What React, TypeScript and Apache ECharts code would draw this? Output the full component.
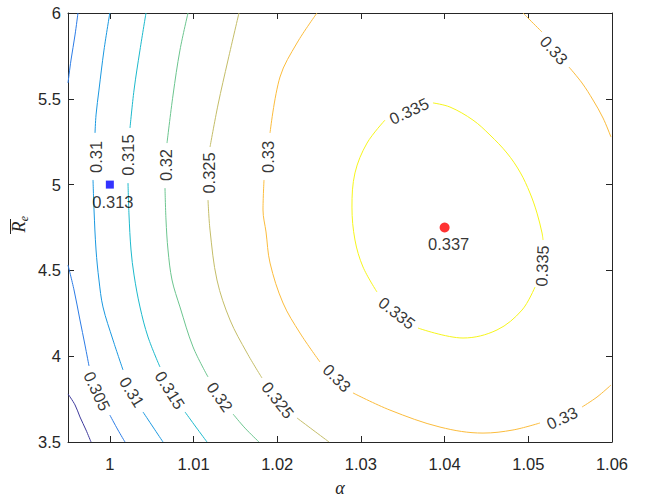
import React, { useEffect, useRef } from "react";
import * as echarts from "echarts";

// ---- data (alpha, R_e) ----
const xTicks = [1, 1.01, 1.02, 1.03, 1.04, 1.05, 1.06];
const yTicks = [3.5, 4, 4.5, 5, 5.5, 6];
const levels = [0.3, 0.305, 0.31, 0.315, 0.32, 0.325, 0.33, 0.335];

const c300 = [
  [[0.995, 3.78], [0.99584, 3.716], [0.99643, 3.646], [0.99715, 3.57], [0.99775, 3.5]],
];
const c305 = [
  [[0.99619, 6.0], [0.99584, 5.872], [0.99536, 5.726], [0.995, 5.592]],
  [[0.995, 4.531], [0.99572, 4.386], [0.99643, 4.211], [0.99703, 4.065], [0.99751, 3.943]],
  [[1.0, 3.657], [1.00097, 3.57], [1.00181, 3.5]],
];
const c310 = [
  [[1.0, 6.0], [0.9993, 5.784], [0.9987, 5.551], [0.99835, 5.406], [0.99823, 5.301]],
  [[0.99799, 5.027], [0.99811, 4.852], [0.99835, 4.619], [0.9987, 4.444], [0.99918, 4.287], [1.00038, 4.094], [1.00157, 3.92]],
  [[1.00396, 3.675], [1.00516, 3.587], [1.00635, 3.5]],
];
const c315 = [
  [[1.00432, 6.0], [1.0036, 5.784], [1.00289, 5.551], [1.00241, 5.33]],
  [[1.00217, 5.009], [1.00229, 4.823], [1.00253, 4.619], [1.00289, 4.473], [1.0036, 4.287], [1.00456, 4.112], [1.00599, 3.937]],
  [[1.00898, 3.675], [1.01029, 3.587], [1.01161, 3.5]],
];
const c320 = [
  [[1.00934, 6.0], [1.00838, 5.784], [1.00755, 5.522], [1.00683, 5.242]],
  [[1.00659, 4.98], [1.00671, 4.794], [1.00695, 4.619], [1.00743, 4.444], [1.00838, 4.287], [1.00994, 4.054], [1.01173, 3.879]],
  [[1.01472, 3.663], [1.01615, 3.581], [1.01782, 3.5]],
];
const c325 = [
  [[1.01543, 6.0], [1.01412, 5.726], [1.01292, 5.464], [1.01197, 5.219]],
  [[1.01173, 4.91], [1.01197, 4.735], [1.0128, 4.444], [1.01436, 4.211], [1.01639, 4.019], [1.01818, 3.873]],
  [[1.02236, 3.64], [1.02427, 3.57], [1.02619, 3.5]],
];
const c330 = [
  [[1.02475, 6.0], [1.02236, 5.825], [1.02033, 5.627], [1.01914, 5.301]],
  [[1.01842, 5.027], [1.0183, 4.852], [1.01866, 4.724], [1.01914, 4.543], [1.02069, 4.31], [1.02272, 4.135], [1.02511, 3.966]],
  [[1.02905, 3.786], [1.03347, 3.686], [1.03945, 3.587], [1.04459, 3.552], [1.04817, 3.57], [1.0514, 3.611]],
  [[1.05642, 3.704], [1.05821, 3.762], [1.05988, 3.832]],
  [[1.04937, 6.0], [1.0502, 5.959], [1.05164, 5.889]],
  [[1.05486, 5.685], [1.05642, 5.592], [1.05773, 5.493], [1.05893, 5.388], [1.05988, 5.277]],
];
const c335 = [
  [[1.03861, 5.476], [1.04064, 5.452], [1.04339, 5.376], [1.04542, 5.289], [1.04745, 5.184], [1.04901, 5.073], [1.0502, 4.951], [1.05104, 4.834], [1.05164, 4.718], [1.05176, 4.677]],
  [[1.0508, 4.403], [1.04925, 4.269], [1.04626, 4.153], [1.0422, 4.106], [1.03682, 4.164]],
  [[1.03192, 4.374], [1.03025, 4.52], [1.02929, 4.677], [1.02893, 4.869], [1.02929, 5.068], [1.03073, 5.242], [1.03288, 5.376]],
];
const contourSegments = [c300, c305, c310, c315, c320, c325, c330, c335];

// contour label anchors: [alpha, R_e, level]
const contourLabels = [
  [0.99847, 3.797, 0.305],
  [0.99835, 5.161, 0.31],
  [1.00265, 3.791, 0.31],
  [1.00217, 5.172, 0.315],
  [1.00719, 3.803, 0.315],
  [1.00671, 5.114, 0.32],
  [1.01316, 3.762, 0.32],
  [1.01185, 5.068, 0.325],
  [1.02009, 3.745, 0.325],
  [1.0189, 5.161, 0.33],
  [1.02714, 3.873, 0.33],
  [1.05403, 3.64, 0.33],
  [1.05307, 5.784, 0.33],
  [1.05164, 4.526, 0.335],
  [1.03431, 4.252, 0.335],
  [1.03574, 5.429, 0.335],
];
const labelAngles = [-65, 90, -58, 90, -58, 90, -55, 90, -52, 90, -45, 25, -48, 88, -38, 25];

const baselinePoint = [1.0, 5.0, 0.313];
const optimumPoint = [1.04, 4.75, 0.337];

// ---- styles ----
const levelColors = ["#3e3a9c", "#2c7ce6", "#1a98e0", "#1cb9cc", "#6cc58f", "#c4bd68", "#fbbc3d", "#f6f51c"];
const axisColor = "#262626";
const sansFont = "'Liberation Sans', Arial, Helvetica, sans-serif";
const serifFont = "'Liberation Serif', 'DejaVu Serif', 'Times New Roman', serif";

export default function App() {
  const ref = useRef<HTMLDivElement>(null);

  useEffect(() => {
    if (!ref.current) return;
    const chart = echarts.init(ref.current, null, { renderer: "svg" });

    const series: any[] = [];
    contourSegments.forEach((segs, li) => {
      segs.forEach((seg) => {
        series.push({
          type: "line",
          data: seg,
          showSymbol: false,
          symbol: "none",
          smooth: 0.35,
          silent: true,
          lineStyle: { color: levelColors[li], width: 1 },
          z: 2,
        });
      });
    });

    series.push({
      type: "scatter",
      symbolSize: 1,
      itemStyle: { color: "rgba(0,0,0,0)" },
      silent: true,
      z: 5,
      data: contourLabels.map((l, i) => ({
        value: [l[0], l[1]],
        name: String(l[2]),
        label: { rotate: labelAngles[i] },
      })),
      label: {
        show: true,
        position: "inside",
        formatter: (p: any) => p.name,
        color: "#000",
        fontFamily: sansFont,
        fontSize: 16.5,
        align: "center",
        verticalAlign: "middle",
      },
    });

    series.push({
      type: "scatter",
      symbol: "rect",
      symbolSize: 8,
      itemStyle: { color: "#0000ff" },
      z: 6,
      data: [{ value: [baselinePoint[0], baselinePoint[1]], name: String(baselinePoint[2]) }],
      label: {
        show: true,
        position: "bottom",
        distance: 5,
        offset: [3, 0],
        formatter: (p: any) => p.name,
        color: "#000",
        fontFamily: sansFont,
        fontSize: 16.5,
      },
    });
    series.push({
      type: "scatter",
      symbol: "circle",
      symbolSize: 10,
      itemStyle: { color: "#ff0000" },
      z: 6,
      data: [{ value: [optimumPoint[0], optimumPoint[1]], name: String(optimumPoint[2]) }],
      label: {
        show: true,
        position: "bottom",
        distance: 3,
        offset: [4, 0],
        formatter: (p: any) => p.name,
        color: "#000",
        fontFamily: sansFont,
        fontSize: 16.5,
      },
    });

    const fmt = (v: number) => String(+Number(v).toFixed(2));

    chart.setOption({
      animation: false,
      backgroundColor: "#ffffff",
      grid: { left: 68, right: 42, top: 13, bottom: 55, containLabel: false, outerBoundsMode: "none" },
      xAxis: [
        {
          type: "value",
          min: 0.995,
          max: 1.06,
          position: "bottom",
          name: "α",
          nameLocation: "middle",
          nameGap: 37,
          nameTextStyle: { fontFamily: serifFont, fontStyle: "italic", fontSize: 18, color: axisColor },
          axisLine: { show: true, onZero: false, lineStyle: { color: axisColor, width: 1 } },
          axisTick: { show: true, inside: true, length: 6, customValues: xTicks, lineStyle: { color: axisColor } },
          axisLabel: { show: true, customValues: xTicks, formatter: fmt, color: axisColor, fontFamily: sansFont, fontSize: 16.5, margin: 13 },
          splitLine: { show: false },
        },
        {
          type: "value",
          min: 0.995,
          max: 1.06,
          position: "top",
          axisLine: { show: true, onZero: false, lineStyle: { color: axisColor, width: 1 } },
          axisTick: { show: true, inside: true, length: 6, customValues: xTicks, lineStyle: { color: axisColor } },
          axisLabel: { show: false },
          splitLine: { show: false },
        },
      ],
      yAxis: [
        {
          type: "value",
          min: 3.5,
          max: 6,
          interval: 0.5,
          position: "left",
          axisLine: { show: true, onZero: false, lineStyle: { color: axisColor, width: 1 } },
          axisTick: { show: true, inside: true, length: 6, lineStyle: { color: axisColor } },
          axisLabel: { show: true, formatter: fmt, color: axisColor, fontFamily: sansFont, fontSize: 16.5, margin: 7, customValues: yTicks },
          splitLine: { show: false },
        },
        {
          type: "value",
          min: 3.5,
          max: 6,
          interval: 0.5,
          position: "right",
          axisLine: { show: true, onZero: false, lineStyle: { color: axisColor, width: 1 } },
          axisTick: { show: true, inside: true, length: 6, lineStyle: { color: axisColor } },
          axisLabel: { show: false },
          splitLine: { show: false },
        },
      ],
      graphic: [
        {
          type: "group",
          x: 19,
          y: 227,
          rotation: Math.PI / 2,
          children: [
            {
              type: "text",
              x: 0,
              y: 0,
              style: {
                text: "R",
                font: `italic 18px ${serifFont}`,
                fill: axisColor,
                textAlign: "center",
                textVerticalAlign: "middle",
              },
            },
            {
              type: "text",
              x: 8.5,
              y: 5,
              style: {
                text: "e",
                font: `italic 12px ${serifFont}`,
                fill: axisColor,
                textAlign: "center",
                textVerticalAlign: "middle",
              },
            },
            {
              type: "line",
              shape: { x1: -7, y1: -8.5, x2: 8, y2: -8.5 },
              style: { stroke: axisColor, lineWidth: 1 },
            },
          ],
        },
      ],
      series,
    });

    return () => chart.dispose();
  }, []);

  return <div ref={ref} style={{ position: "fixed", left: 0, top: 0, width: 654, height: 497 }} />;
}
